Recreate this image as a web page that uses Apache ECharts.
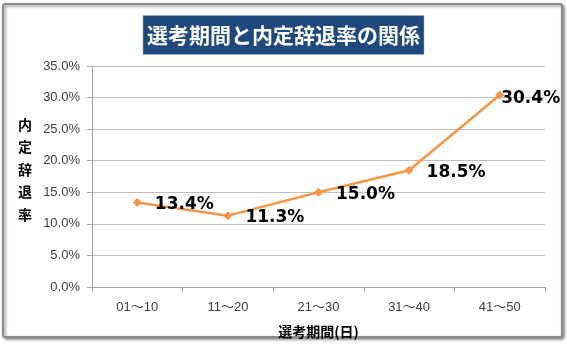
<!DOCTYPE html>
<html>
<head>
<meta charset="utf-8">
<script src="https://cdn.jsdelivr.net/npm/echarts@6/dist/echarts.min.js"></script>
<style>
  html, body { margin: 0; padding: 0; background: #fff; }
  #chart { width: 567px; height: 344px; }
</style>
</head>
<body>
<div id="chart"></div>
<script>
// 選考期間ごとの内定辞退率 (%)
const titleText = '選考期間と内定辞退率の関係';
const categories = ['01～10', '11～20', '21～30', '31～40', '41～50'];
const declineRate = [13.4, 11.3, 15.0, 18.5, 30.4];
const xAxisName = '選考期間(日)';
const yAxisName = '内定辞退率';

const pct = v => Number(v).toFixed(1) + '%';
const jpFont = '"Noto Sans CJK JP", sans-serif';
const numFont = '"Liberation Sans", "Noto Sans CJK JP", sans-serif';

const chart = echarts.init(document.getElementById('chart'), null, { renderer: 'canvas' });

const seriesData = declineRate.map((v, i) => {
  const item = { value: v };
  if (i === declineRate.length - 1) {
    item.label = { offset: [-16, 4] };
  }
  return item;
});

// vertical axis title: one character per line, with a short spacer line below
const yNameText = yAxisName.split('').map(c => '{c|' + c + '}').join('\n') + '\n{gap|}';

chart.setOption({
  animation: false,
  backgroundColor: '#fff',
  graphic: [
    {
      type: 'rect',
      z: -10,
      shape: { x: 3, y: 4, width: 559, height: 333, r: 2 },
      style: {
        fill: '#fff',
        stroke: '#8c8c8c',
        lineWidth: 2,
        shadowBlur: 3,
        shadowOffsetX: 1.5,
        shadowOffsetY: 1.5,
        shadowColor: 'rgba(0,0,0,0.45)'
      }
    }
  ],
  title: {
    text: titleText,
    left: 'center',
    top: 15,
    padding: [6, 4, 6, 4],
    backgroundColor: '#1f497d',
    borderColor: '#9fb3cc',
    borderWidth: 0.5,
    textStyle: {
      color: '#fff',
      fontFamily: jpFont,
      fontWeight: 'bold',
      fontSize: 21,
      lineHeight: 28
    }
  },
  grid: { left: 92, right: 22, top: 66, bottom: 54, containLabel: false },
  xAxis: {
    type: 'category',
    data: categories,
    boundaryGap: true,
    name: xAxisName,
    nameLocation: 'middle',
    nameGap: 38,
    nameTextStyle: {
      color: '#000',
      fontFamily: jpFont,
      fontWeight: 'bold',
      fontSize: 14
    },
    axisLine: { lineStyle: { color: '#a6a6a6', width: 1 } },
    axisTick: { show: true, length: 5, alignWithLabel: false, lineStyle: { color: '#a6a6a6' } },
    axisLabel: {
      margin: 14,
      color: '#404040',
      fontFamily: numFont,
      fontSize: 13
    },
    splitLine: { show: false }
  },
  yAxis: {
    type: 'value',
    min: 0,
    max: 35,
    interval: 5,
    name: yNameText,
    nameLocation: 'middle',
    nameRotate: 0,
    nameGap: 67,
    nameTextStyle: {
      align: 'center',
      rich: {
        c: {
          color: '#000',
          fontFamily: jpFont,
          fontWeight: 'bold',
          fontSize: 14,
          lineHeight: 22.5,
          align: 'center'
        },
        gap: { fontSize: 1, lineHeight: 14 }
      }
    },
    axisLine: { show: true, lineStyle: { color: '#a6a6a6', width: 1 } },
    axisTick: { show: true, length: 5, lineStyle: { color: '#a6a6a6' } },
    axisLabel: {
      margin: 12,
      color: '#404040',
      fontFamily: numFont,
      fontSize: 13,
      formatter: pct
    },
    splitLine: { show: true, lineStyle: { color: '#bfbfbf', width: 1 } }
  },
  series: [
    {
      type: 'line',
      data: seriesData,
      symbol: 'diamond',
      symbolSize: 9,
      lineStyle: { color: '#f79646', width: 2.5 },
      itemStyle: { color: '#f79646' },
      label: {
        show: true,
        position: 'right',
        distance: 13,
        offset: [0, 2],
        formatter: p => pct(p.value),
        color: '#000',
        fontFamily: '"DejaVu Sans", sans-serif',
        fontWeight: 'bold',
        fontSize: 17
      }
    }
  ]
});
</script>
</body>
</html>
